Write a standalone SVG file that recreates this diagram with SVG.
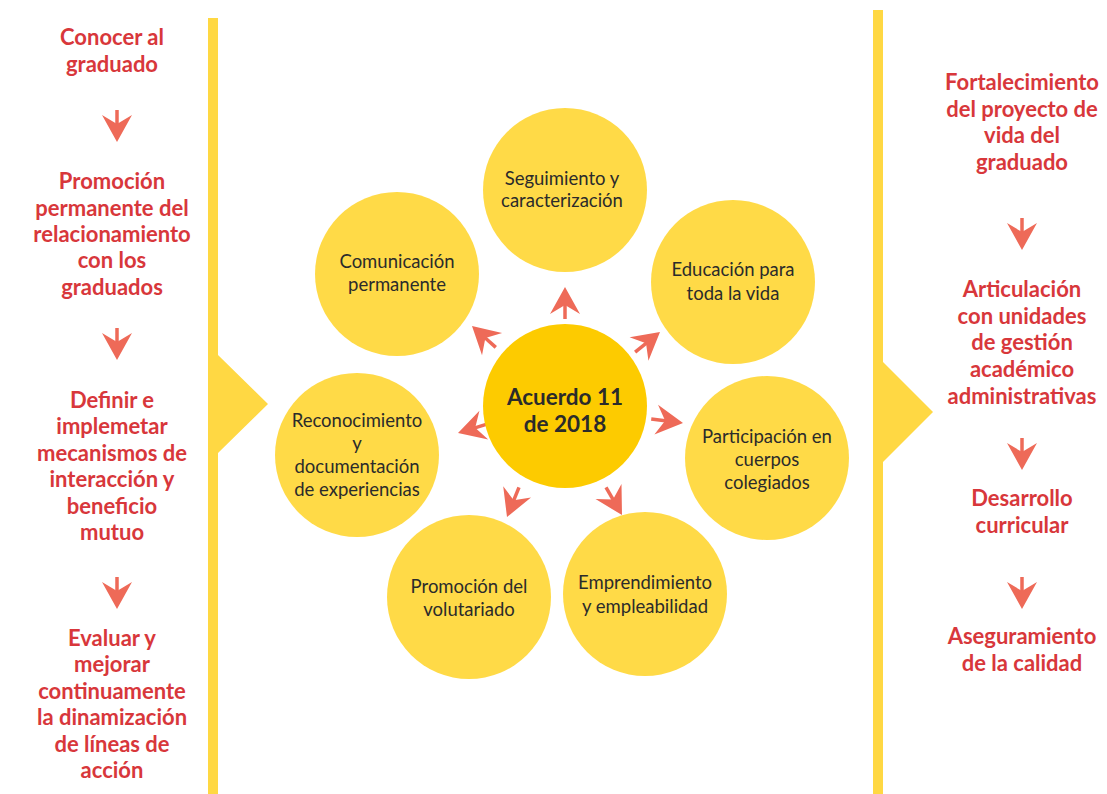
<svg xmlns="http://www.w3.org/2000/svg" width="1107" height="794" viewBox="0 0 1107 794">
<defs>
<style>
.bar{fill:#FFD843}
.c{fill:#FFDA47}
.cc{fill:#FDCB00}
.side{font-family:Lato,"Liberation Sans",sans-serif;font-weight:bold;font-size:22px;fill:#D8373B;text-anchor:middle}
.ct{font-family:Lato,"Liberation Sans",sans-serif;font-size:18.5px;fill:#2B2B2B;text-anchor:middle}
.mt{font-family:Lato,"Liberation Sans",sans-serif;font-weight:bold;font-size:22.5px;fill:#2B2B2B;text-anchor:middle}
.ah{fill:#EE6A58}
.sh{stroke:#EE6A58;stroke-width:3.5;fill:none}
</style>
<g id="arr">
<line class="sh" x1="-16" y1="0" x2="-32" y2="0"/>
<path class="ah" d="M0,0 L-27,-15 L-18,0 L-27,15 Z"/>
</g>
</defs>
<rect width="1107" height="794" fill="#FFFFFF"/>
<g id="left-bar">
<path class="bar" d="M208,18 H218 V355 L268,404 L218,453 V794 H208 Z"/>
</g>
<g id="right-bar">
<path class="bar" d="M873,10 H883 V362 L933,412 L883,462 V794 H873 Z"/>
</g>
<g id="connectors">
<use href="#arr" transform="translate(565,287) rotate(-90)"/>
<use href="#arr" transform="translate(472,326) rotate(-138)"/>
<use href="#arr" transform="translate(660,332) rotate(-39)"/>
<use href="#arr" transform="translate(683,423) rotate(7)"/>
<use href="#arr" transform="translate(458,433) rotate(163)"/>
<use href="#arr" transform="translate(507,517) rotate(112)"/>
<use href="#arr" transform="translate(622,515) rotate(60)"/>
<use href="#arr" transform="translate(117,142) rotate(90)"/>
<use href="#arr" transform="translate(117,360) rotate(90)"/>
<use href="#arr" transform="translate(117,609) rotate(90)"/>
<use href="#arr" transform="translate(1022,250) rotate(90)"/>
<use href="#arr" transform="translate(1022,470) rotate(90)"/>
<use href="#arr" transform="translate(1022,609) rotate(90)"/>
</g>
<g id="center">
<circle class="cc" cx="565" cy="406" r="82"/>
<text class="mt" x="565" y="405">Acuerdo 11</text>
<text class="mt" x="565" y="432">de 2018</text>
</g>
<g id="seguimiento">
<circle class="c" cx="565" cy="190" r="82"/>
<text class="ct" x="562" y="185">Seguimiento y</text>
<text class="ct" x="562" y="207">caracterización</text>
</g>
<g id="comunicacion">
<circle class="c" cx="397" cy="274" r="82"/>
<text class="ct" x="397" y="268">Comunicación</text>
<text class="ct" x="397" y="291">permanente</text>
</g>
<g id="educacion">
<circle class="c" cx="733" cy="282" r="82"/>
<text class="ct" x="733" y="276">Educación para</text>
<text class="ct" x="733" y="300">toda la vida</text>
</g>
<g id="reconocimiento">
<circle class="c" cx="357" cy="455" r="82"/>
<text class="ct" x="357" y="427">Reconocimiento</text>
<text class="ct" x="357" y="450">y</text>
<text class="ct" x="357" y="473">documentación</text>
<text class="ct" x="357" y="496">de experiencias</text>
</g>
<g id="participacion">
<circle class="c" cx="767" cy="458" r="82"/>
<text class="ct" x="767" y="443">Participación en</text>
<text class="ct" x="767" y="466">cuerpos</text>
<text class="ct" x="767" y="489">colegiados</text>
</g>
<g id="voluntariado">
<circle class="c" cx="469" cy="597" r="82"/>
<text class="ct" x="469" y="593">Promoción del</text>
<text class="ct" x="469" y="616">volutariado</text>
</g>
<g id="emprendimiento">
<circle class="c" cx="645" cy="594" r="82"/>
<text class="ct" x="645" y="589">Emprendimiento</text>
<text class="ct" x="645" y="613">y empleabilidad</text>
</g>
<g id="left-steps">
<text class="side" x="112" y="45">Conocer al</text>
<text class="side" x="112" y="72">graduado</text>
<text class="side" x="112" y="189">Promoción</text>
<text class="side" x="112" y="216">permanente del</text>
<text class="side" x="112" y="242">relacionamiento</text>
<text class="side" x="112" y="268">con los</text>
<text class="side" x="112" y="295">graduados</text>
<text class="side" x="112" y="408">Definir e</text>
<text class="side" x="112" y="434">implemetar</text>
<text class="side" x="112" y="461">mecanismos de</text>
<text class="side" x="112" y="487">interacción y</text>
<text class="side" x="112" y="514">beneficio</text>
<text class="side" x="112" y="540">mutuo</text>
<text class="side" x="112" y="646">Evaluar y</text>
<text class="side" x="112" y="672">mejorar</text>
<text class="side" x="112" y="699">continuamente</text>
<text class="side" x="112" y="725">la dinamización</text>
<text class="side" x="112" y="752">de líneas de</text>
<text class="side" x="112" y="778">acción</text>
</g>
<g id="right-steps">
<text class="side" x="1022" y="90">Fortalecimiento</text>
<text class="side" x="1022" y="117">del proyecto de</text>
<text class="side" x="1022" y="143">vida del</text>
<text class="side" x="1022" y="170">graduado</text>
<text class="side" x="1022" y="297">Articulación</text>
<text class="side" x="1022" y="324">con unidades</text>
<text class="side" x="1022" y="350">de gestión</text>
<text class="side" x="1022" y="377">académico</text>
<text class="side" x="1022" y="404">administrativas</text>
<text class="side" x="1022" y="506">Desarrollo</text>
<text class="side" x="1022" y="533">curricular</text>
<text class="side" x="1022" y="644">Aseguramiento</text>
<text class="side" x="1022" y="671">de la calidad</text>
</g>
</svg>
